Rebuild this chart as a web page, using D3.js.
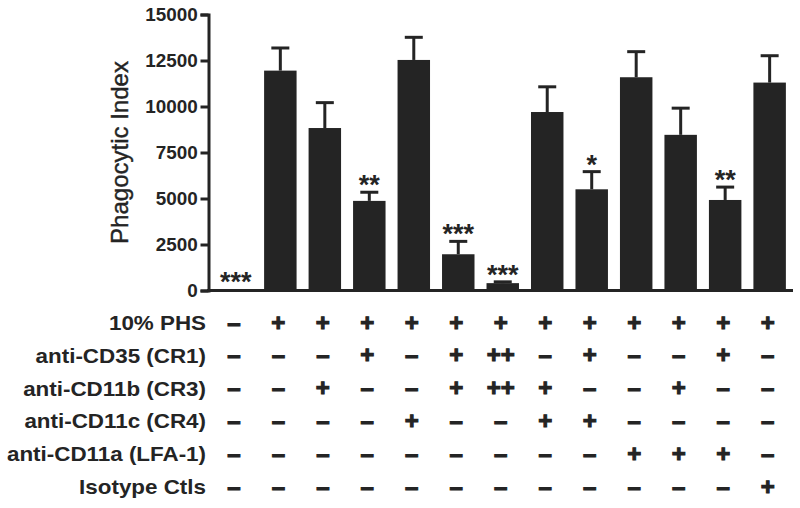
<!DOCTYPE html>
<html><head><meta charset="utf-8">
<script src="https://cdn.jsdelivr.net/npm/d3@7"></script>
<style>body{margin:0;background:#fff}</style>
</head><body><svg id="c" width="800" height="508"></svg>
<script>
// ---- data ----
const categories = ["C1","C2","C3","C4","C5","C6","C7","C8","C9","C10","C11","C12","C13"];
const means = [60, 11950, 8830, 4870, 12530, 1970, 400, 9700, 5500, 11590, 8460, 4920, 11300];
const sems  = [0, 1230, 1380, 470, 1230, 700, 70, 1370, 960, 1390, 1450, 700, 1460];
const stars = ["***", "", "", "**", "", "***", "***", "", "*", "", "", "**", ""];
const yTicks = [0, 2500, 5000, 7500, 10000, 12500, 15000];
const rowLabels = ["10% PHS", "anti-CD35 (CR1)", "anti-CD11b (CR3)", "anti-CD11c (CR4)", "anti-CD11a (LFA-1)", "Isotype Ctls"];
const rowPHS  = ["–","+","+","+","+","+","+","+","+","+","+","+","+"];
const rowCD35 = ["–","–","–","+","–","+","++","–","+","–","–","+","–"];
const rowCD11b= ["–","–","+","–","–","+","++","+","–","–","+","–","–"];
const rowCD11c= ["–","–","–","–","+","–","–","+","+","–","–","–","–"];
const rowCD11a= ["–","–","–","–","–","–","–","–","–","+","+","+","–"];
const rowIso  = ["–","–","–","–","–","–","–","–","–","–","–","–","+"];
const yLabel = "Phagocytic Index";

// ---- chart ----
const ink = "#242424";
const svg = d3.select("#c");
svg.append("rect").attr("width",800).attr("height",508).attr("fill","#fff");

const axisX = 208.5;
const y = d3.scaleLinear().domain([0,15000]).range([290.5,14.5]);
const x = d3.scaleBand().domain(categories).range([axisX, 797]).paddingInner(0.27).paddingOuter(0.25);

// bars
svg.append("g").selectAll("rect").data(categories).join("rect")
  .attr("x", d => x(d)).attr("width", x.bandwidth())
  .attr("y", (d,i) => y(means[i])).attr("height", (d,i) => y(0) - y(means[i]))
  .attr("fill", ink);

// error bars
const eb = svg.append("g").attr("stroke", ink).attr("stroke-width", 3);
categories.forEach((c,i) => {
  if (!sems[i]) return;
  const cx = x(c) + x.bandwidth()/2;
  eb.append("line").attr("x1",cx).attr("x2",cx).attr("y1",y(means[i])).attr("y2",y(means[i]+sems[i]));
  eb.append("line").attr("x1",cx-9).attr("x2",cx+9).attr("y1",y(means[i]+sems[i])).attr("y2",y(means[i]+sems[i]));
});

// significance stars
svg.append("g").selectAll("text").data(categories).join("text")
  .attr("x", d => x(d) + x.bandwidth()/2)
  .attr("y", (d,i) => y(means[i]+sems[i]) + 2)
  .attr("text-anchor","middle")
  .attr("font-family","'Liberation Sans', Arial, sans-serif")
  .attr("font-weight","bold").attr("font-size",27).attr("fill",ink)
  .text((d,i) => stars[i]);

// x axis line
svg.append("line").attr("x1",axisX-1.5).attr("x2",793).attr("y1",y(0)).attr("y2",y(0))
  .attr("stroke",ink).attr("stroke-width",3);

// y axis
const ya = svg.append("g").attr("transform",`translate(${axisX},0)`)
  .call(d3.axisLeft(y).tickValues(yTicks).tickFormat(d3.format("d")).tickSize(8).tickPadding(2));
ya.select(".domain").attr("stroke",ink).attr("stroke-width",3);
ya.selectAll(".tick line").attr("stroke",ink).attr("stroke-width",3);
ya.selectAll(".tick text")
  .attr("font-family","'Liberation Sans', Arial, sans-serif")
  .attr("font-weight","bold").attr("font-size",17.5).attr("fill",ink)
  .attr("transform","scale(1.08,1)");

// y label
svg.append("text").attr("transform","translate(128,152.5) rotate(-90)")
  .attr("text-anchor","middle")
  .attr("font-family","'Liberation Sans', Arial, sans-serif")
  .attr("font-size",24).attr("fill",ink).attr("stroke",ink).attr("stroke-width",0.4)
  .text(yLabel);

// condition table
const rows = [rowPHS, rowCD35, rowCD11b, rowCD11c, rowCD11a, rowIso];
const ry = d3.scalePoint().domain(rowLabels).range([330, 494]);
const tbl = svg.append("g");
tbl.selectAll("text.lab").data(rowLabels).join("text").attr("class","lab")
  .attr("transform", d => `translate(206,${ry(d)}) scale(1.12,1)`)
  .attr("text-anchor","end")
  .attr("font-family","'Liberation Sans', Arial, sans-serif")
  .attr("font-weight","bold").attr("font-size",20).attr("fill",ink)
  .text(d => d);
rows.forEach((r, ri) => {
  tbl.append("g").selectAll("text").data(r).join("text")
    .attr("x", (d,i) => x(categories[i]) + x.bandwidth()/2 - 2)
    .attr("y", ry(rowLabels[ri]) + 0.5)
    .attr("text-anchor","middle")
    .attr("font-family","'Liberation Sans', Arial, sans-serif")
    .attr("font-weight","bold").attr("font-size",24)
    .attr("fill",ink).attr("stroke",ink).attr("stroke-width",1.1)
    .attr("letter-spacing", d => d.length > 1 ? 0 : 0)
    .text(d => d);
});
</script>
</body></html>
